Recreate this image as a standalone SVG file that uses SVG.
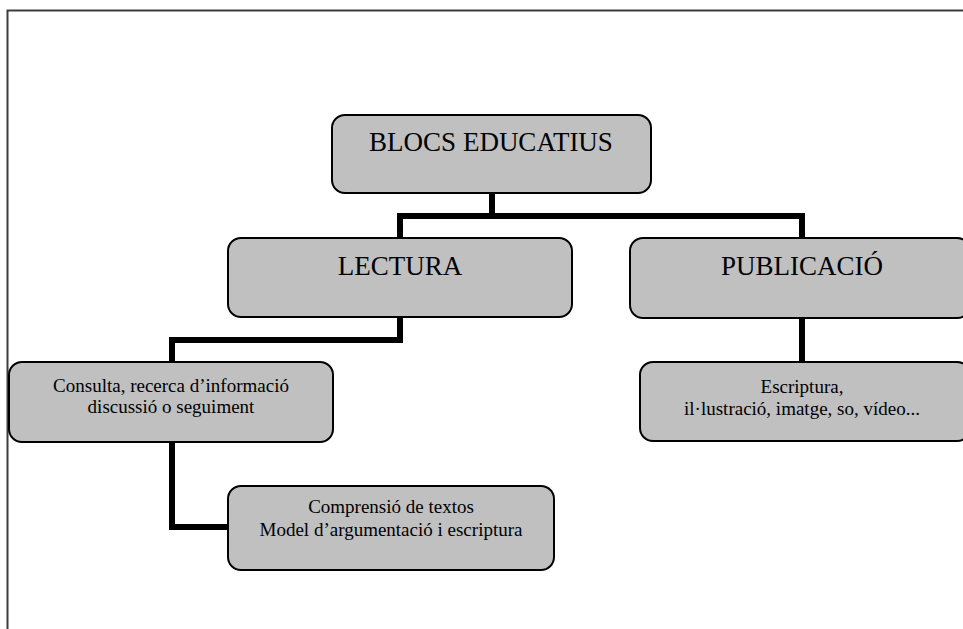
<svg xmlns="http://www.w3.org/2000/svg" width="963" height="629" viewBox="0 0 963 629">
<style>
.box{fill:#c0c0c0;stroke:#000;stroke-width:2}
.conn{fill:none;stroke:#000;stroke-width:6;stroke-linejoin:miter;stroke-linecap:butt}
.big{font-family:"Liberation Serif","Times New Roman",serif;font-size:27px;fill:#000;text-anchor:middle}
.small{font-family:"Liberation Serif","Times New Roman",serif;font-size:19px;fill:#000;text-anchor:middle}
</style>
<rect width="963" height="629" fill="#fff"/>
<path d="M7.5,629 V10.5 H963" fill="none" stroke="#3c3c3c" stroke-width="2"/>
<g id="connectors">
<path class="conn" d="M492,193 V216"/>
<path class="conn" d="M400,238 V216 H802 V238"/>
<path class="conn" d="M400,317 V340 H172 V362"/>
<path class="conn" d="M802,318 V362"/>
<path class="conn" d="M172,442 V527 H228"/>
</g>
<g id="blocs">
<rect class="box" x="332" y="115" width="319" height="78" rx="13"/>
<text class="big" x="491" y="151">BLOCS EDUCATIUS</text>
</g>
<g id="lectura">
<rect class="box" x="228" y="238" width="344" height="79" rx="13"/>
<text class="big" x="400" y="275">LECTURA</text>
</g>
<g id="publicacio">
<rect class="box" x="630" y="238" width="340" height="80" rx="13"/>
<text class="big" x="802" y="275">PUBLICACIÓ</text>
</g>
<g id="consulta">
<rect class="box" x="9" y="362" width="324" height="80" rx="13"/>
<text class="small" x="171" y="392">Consulta, recerca d’informació</text>
<text class="small" x="171" y="413">discussió o seguiment</text>
</g>
<g id="escriptura">
<rect class="box" x="640" y="362" width="330" height="79" rx="13"/>
<text class="small" x="802" y="393">Escriptura,</text>
<text class="small" x="802" y="415">il·lustració, imatge, so, vídeo...</text>
</g>
<g id="comprensio">
<rect class="box" x="228" y="486" width="326" height="84" rx="13"/>
<text class="small" x="391" y="513">Comprensió de textos</text>
<text class="small" x="391" y="536">Model d’argumentació i escriptura</text>
</g>
</svg>
